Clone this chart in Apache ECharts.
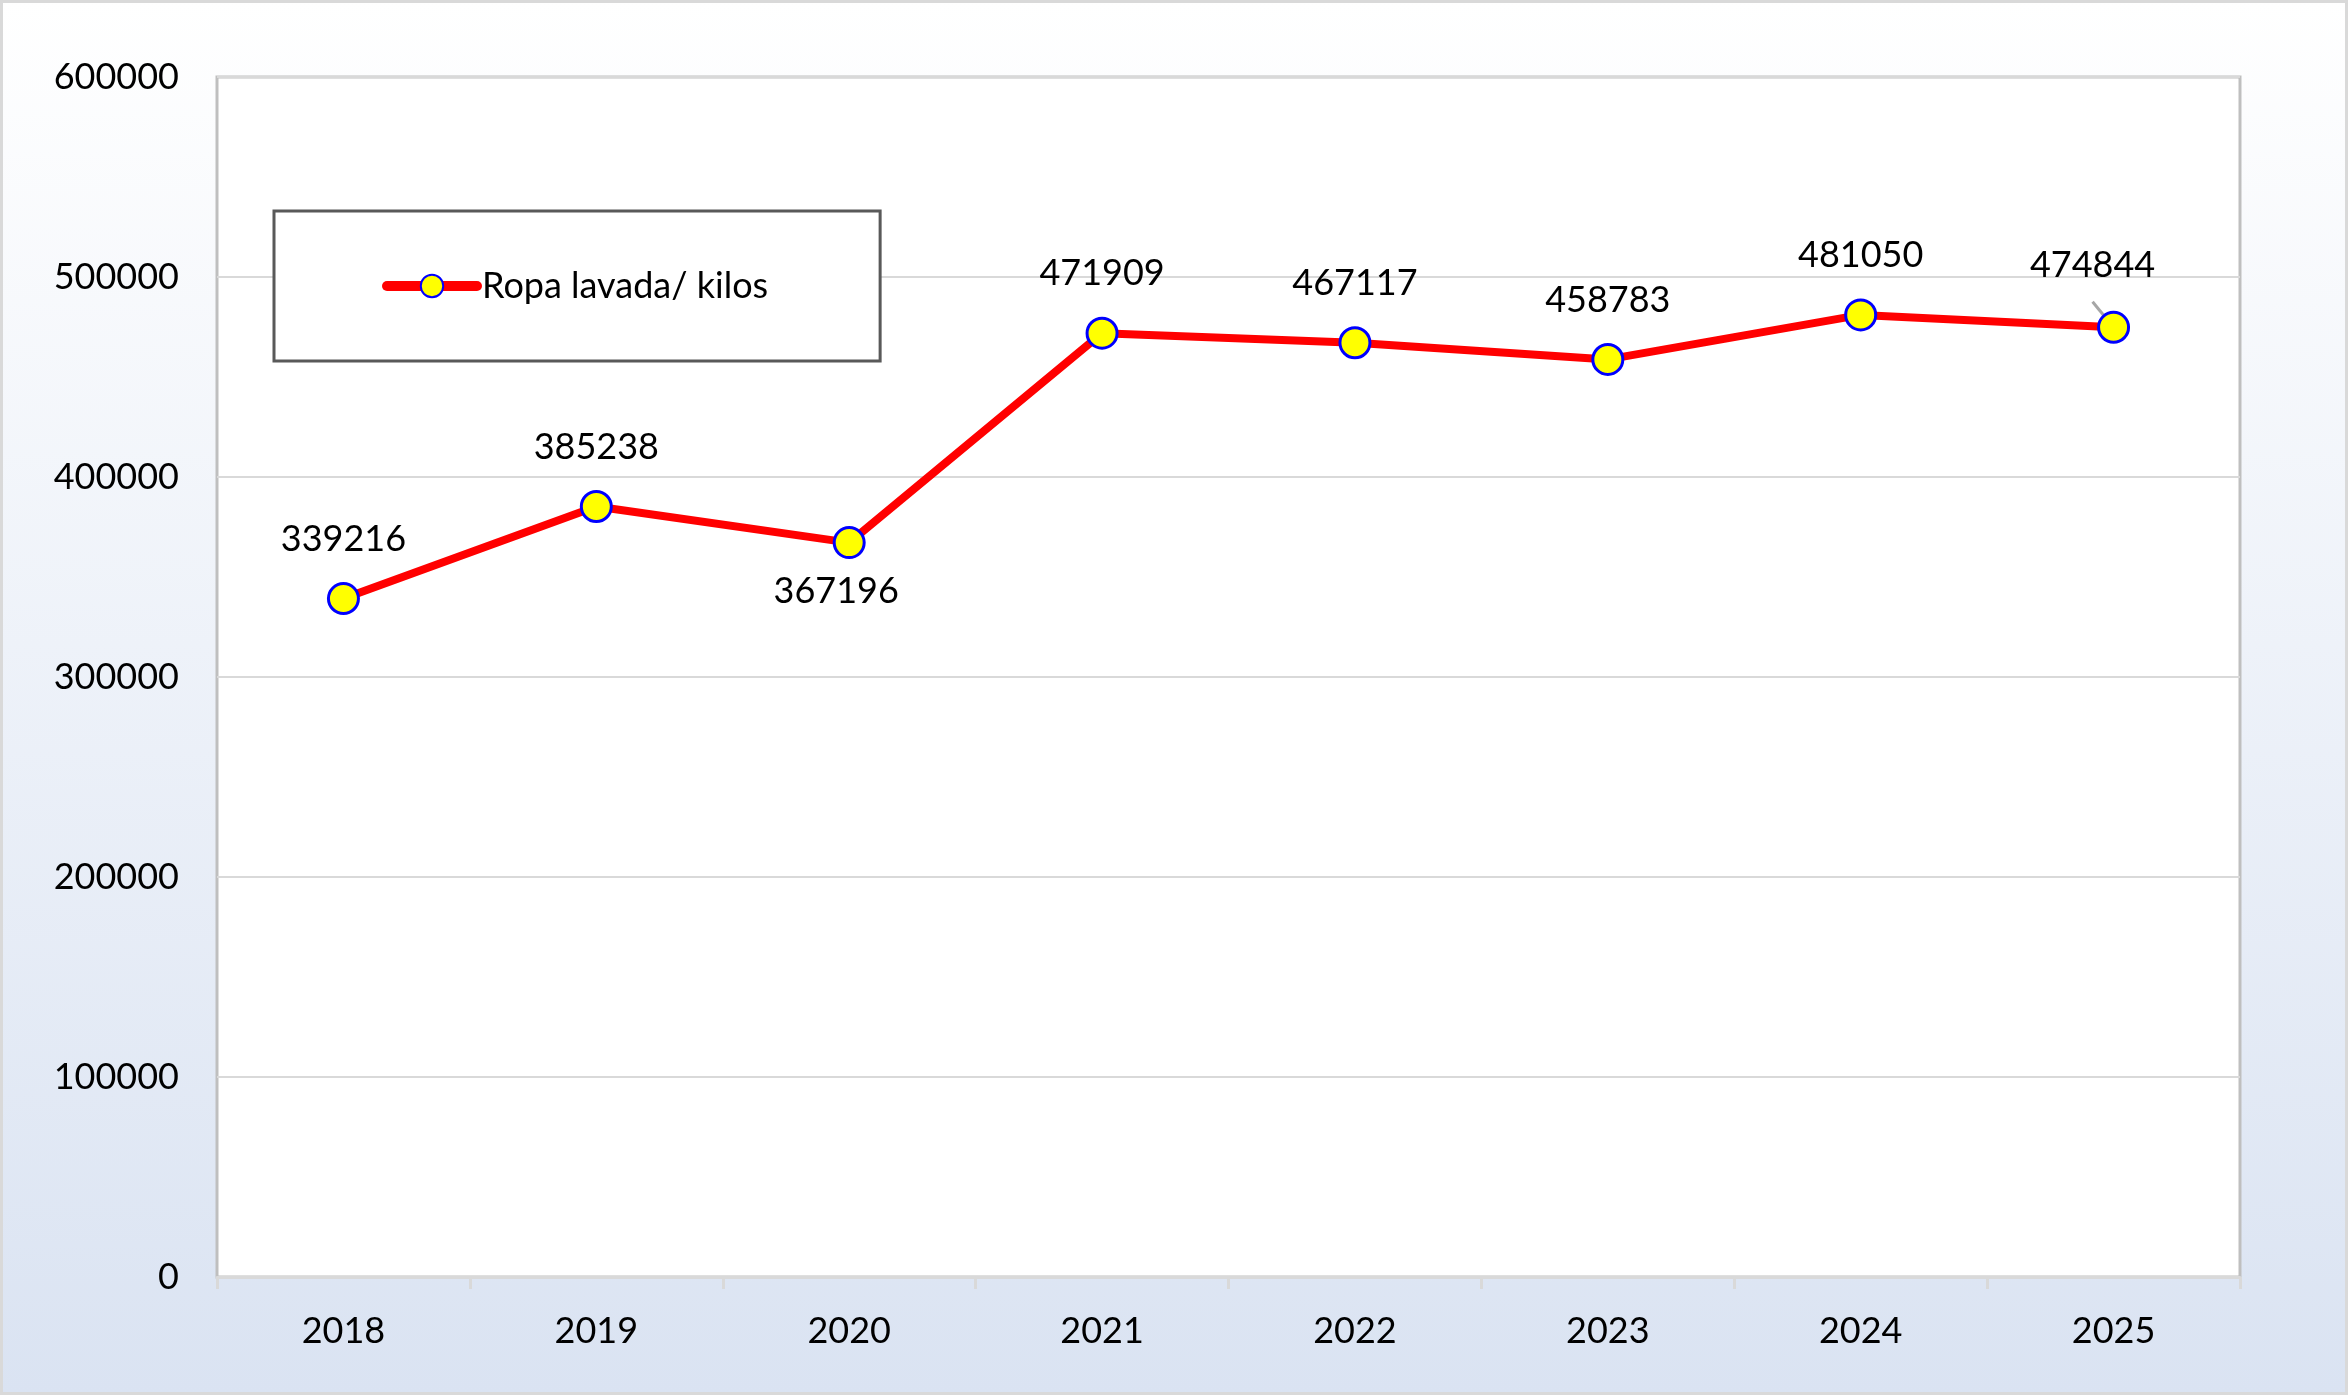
<!DOCTYPE html>
<html>
<head>
<meta charset="utf-8">
<script src="https://cdn.jsdelivr.net/npm/echarts@6/dist/echarts.min.js"></script>
<style>
html,body{margin:0;padding:0;background:#fff;}
#chart{position:absolute;left:0;top:0;width:2348px;height:1395px;}
#frame{position:absolute;left:0;top:0;width:2348px;height:1395px;box-sizing:border-box;border:3px solid #d9d9d9;pointer-events:none;}
</style>
</head>
<body>
<div id="chart"></div>
<div id="frame"></div>
<script>
const categories = ['2018','2019','2020','2021','2022','2023','2024','2025'];
const values = [339216, 385238, 367196, 471909, 467117, 458783, 481050, 474844];
const seriesName = 'Ropa lavada/ kilos';
const yTicks = [0, 100000, 200000, 300000, 400000, 500000, 600000];

const FONT = 'Lato, "Open Sans", sans-serif';

const dataItems = values.map((v, i) => {
  const item = { value: v };
  if (i === 2) {
    item.label = { position: 'bottom', distance: 14, offset: [-13, 0] };
  }
  if (i === 7) {
    item.label = { offset: [-21, -2] };
    item.labelLine = { show: true, lineStyle: { color: '#a6a6a6', width: 3 } };
  }
  return item;
});

const chart = echarts.init(document.getElementById('chart'), null, { renderer: 'canvas' });
chart.setOption({
  animation: false,
  backgroundColor: {
    type: 'linear', x: 0, y: 0, x2: 0, y2: 1,
    colorStops: [{ offset: 0, color: '#ffffff' }, { offset: 1, color: '#dae3f2' }]
  },
  grid: {
    left: 217, right: 108, top: 77, bottom: 118,
    show: true, backgroundColor: '#ffffff', borderColor: '#bfbfbf', borderWidth: 3
  },
  legend: {
    left: 274, top: 211,
    padding: [57, 112, 57, 108],
    backgroundColor: '#ffffff',
    borderColor: '#595959', borderWidth: 3, borderRadius: 0,
    itemWidth: 90, itemHeight: 28, itemGap: 8,
    lineStyle: { width: 10, cap: 'round' },
    textStyle: { fontFamily: FONT, fontSize: 36, color: '#000000' },
    data: [seriesName]
  },
  xAxis: {
    type: 'category',
    data: categories,
    boundaryGap: true,
    axisLine: { show: true, lineStyle: { color: '#d9d9d9', width: 3 } },
    axisTick: { show: true, length: 12, lineStyle: { color: '#d9d9d9', width: 3 } },
    axisLabel: { fontFamily: FONT, fontSize: 36, color: '#000000', margin: 36 },
    splitLine: { show: false }
  },
  yAxis: {
    type: 'value',
    min: yTicks[0], max: yTicks[yTicks.length - 1], interval: 100000,
    axisLine: { show: false },
    axisTick: { show: false },
    axisLabel: { fontFamily: FONT, fontSize: 36, color: '#000000', margin: 38, formatter: (v) => String(v) },
    splitLine: { show: true, lineStyle: { color: '#d9d9d9', width: 2 } }
  },
  series: [{
    name: seriesName,
    type: 'line',
    data: dataItems,
    symbol: 'circle',
    symbolSize: 30,
    lineStyle: { color: '#ff0000', width: 8 },
    itemStyle: { color: '#ffff00', borderColor: '#0000ff', borderWidth: 3 },
    label: {
      show: true, position: 'top', distance: 25,
      fontFamily: FONT, fontSize: 36, color: '#000000'
    },
    z: 3
  }]
});
</script>
</body>
</html>
